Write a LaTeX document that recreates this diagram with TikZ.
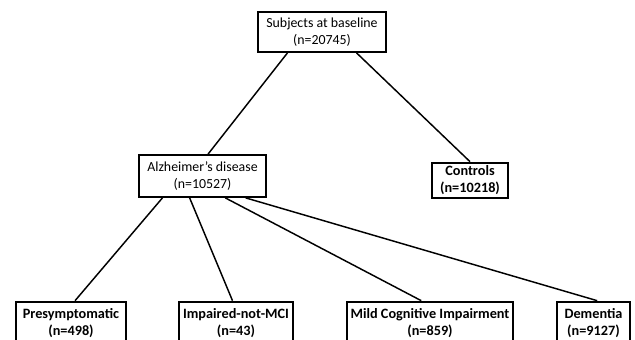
\documentclass[tikz,border=0pt]{standalone}
\usepackage{fontspec}
\setmainfont{Carlito}
\usetikzlibrary{calc}
\begin{document}
\begin{tikzpicture}[x=0.75pt,y=-0.75pt,
  box/.style={draw, line width=1.3pt, inner sep=0pt, align=center,
    font=\fontsize{10.4}{12.75}\selectfont},
  boldbox/.style={box, line width=2pt, font=\fontsize{10.7}{12.75}\selectfont\bfseries},
  conn/.style={line width=1.1pt}]
\useasboundingbox (0,0) rectangle (635,339);
\clip (0,0) rectangle (635,339);
\node[box, minimum width=96pt, minimum height=30pt] (top) at (322,32) {Subjects at baseline\\(n=20745)};
\node[box, minimum width=95.25pt, minimum height=31.5pt] (alz) at (202.5,176) {Alzheimer’s disease\\(n=10527)};
\node[boldbox, minimum width=57pt, minimum height=26.25pt] (ctrl) at (470,180.5) {Controls\\(n=10218)};
\node[boldbox, minimum width=82.5pt, minimum height=31.5pt] (pres) at (71,323) {Presymptomatic\\(n=498)};
\node[boldbox, minimum width=85.5pt, minimum height=31.5pt] (imp) at (236,323) {Impaired-not-MCI\\(n=43)};
\node[boldbox, minimum width=124.5pt, minimum height=31.5pt] (mci) at (430,323) {Mild Cognitive Impairment\\(n=859)};
\node[boldbox, minimum width=54.75pt, minimum height=31.5pt] (dem) at (593.5,323) {Dementia\\(n=9127)};
\draw[conn] ($(top.south west)!0.234!(top.south east)$) -- ($(alz.north west)!0.543!(alz.north east)$);
\draw[conn] ($(top.south west)!0.766!(top.south east)$) -- (ctrl.north);
\draw[conn] ($(alz.south west)!0.189!(alz.south east)$) -- ($(pres.north west)!0.536!(pres.north east)$);
\draw[conn] ($(alz.south west)!0.40!(alz.south east)$) -- ($(imp.north west)!0.47!(imp.north east)$);
\draw[conn] ($(alz.south west)!0.677!(alz.south east)$) -- ($(mci.north west)!0.448!(mci.north east)$);
\draw[conn] ($(alz.south west)!0.835!(alz.south east)$) -- ($(dem.north west)!0.548!(dem.north east)$);
\end{tikzpicture}
\end{document}
